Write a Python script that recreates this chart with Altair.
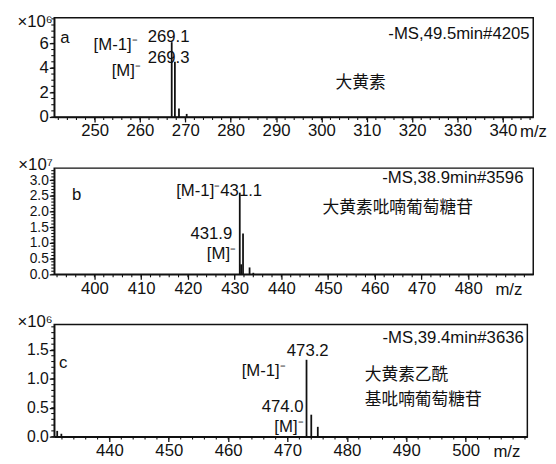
import math
import altair as alt
import numpy as np
import pandas as pd

LAT = "Liberation Sans"
CJK = "Noto Sans CJK SC"
INK = "#111111"

# ---------------- data ----------------
# panel a : 大黄素 (x10^6)
a_mz = [267.0, 267.7, 268.6, 270.3]
a_int = [6.1, 4.5, 0.7, 0.25]
a_xticks = [250, 260, 270, 280, 290, 300, 310, 320, 330, 340]
a_yticks = [0, 2, 4, 6]

# panel b : 大黄素吡喃葡萄糖苷 (x10^7)
b_mz = [431.1, 431.4, 431.8, 433.2, 434.0]
b_int = [2.6, 0.32, 1.3, 0.22, 0.05]
b_xticks = [400, 410, 420, 430, 440, 450, 460, 470, 480]
b_yticks = [0.0, 0.5, 1.0, 1.5, 2.0, 2.5, 3.0]

# panel c : 大黄素乙酰基吡喃葡萄糖苷 (x10^6)
c_mz = [431.2, 431.9, 473.2, 474.0, 475.1]
c_int = [0.1, 0.05, 1.33, 0.38, 0.17]
c_xticks = [440, 450, 460, 470, 480, 490, 500]
c_yticks = [0.0, 0.5, 1.0, 1.5]

# annotations: (text, x, y, align, font)
a_notes = [
    ("a", 242.4, 6.4, "left", LAT),
    ("[M-1]⁻", 259.5, 5.9, "right", LAT),
    ("269.1", 261.7, 6.55, "left", LAT),
    ("[M]⁻", 260.2, 3.75, "right", LAT),
    ("269.3", 261.7, 4.8, "left", LAT),
    ("-MS,49.5min#4205", 345.9, 6.8, "right", LAT),
    ("大黄素", 303.1, 2.8, "left", CJK),
]
b_notes = [
    ("b", 395.2, 2.52, "left", LAT),
    ("[M-1]⁻431.1", 417.5, 2.65, "left", LAT),
    ("431.9", 429.5, 1.29, "right", LAT),
    ("[M]⁻", 430.3, 0.63, "right", LAT),
    ("-MS,38.9min#3596", 491.8, 3.06, "right", LAT),
    ("大黄素吡喃葡萄糖苷", 448.8, 2.11, "left", CJK),
]
c_notes = [
    ("c", 431.5, 1.27, "left", LAT),
    ("[M-1]⁻", 469.7, 1.13, "right", LAT),
    ("473.2", 473.4, 1.48, "center", LAT),
    ("474.0", 472.7, 0.51, "right", LAT),
    ("[M]⁻", 472.7, 0.17, "right", LAT),
    ("-MS,39.4min#3636", 509.8, 1.71, "right", LAT),
    ("大黄素乙酰", 483.0, 1.06, "left", CJK),
    ("基吡喃葡萄糖苷", 483.0, 0.63, "left", CJK),
]


def steps(lo, hi, step):
    start = math.ceil(lo / step - 1e-9) * step
    return [round(v, 4) for v in np.arange(start, hi + 1e-9, step)]


def panel(mz, inten, xdom, ydom, w, h, xticks, xstep, yticks, ystep, yfmt,
          mult, multY, mzX, notes, ylab_size):
    xs = alt.Scale(domain=xdom, nice=False, zero=False)
    ys = alt.Scale(domain=ydom, nice=False, zero=False)
    peaks = pd.DataFrame({"mz": mz, "inten": inten, "base": [0.0] * len(mz)})

    xaxis = alt.Axis(
        values=xticks, tickSize=5, tickWidth=1.3, tickColor=INK,
        domainColor=INK, domainWidth=1.5, grid=False, labelOverlap=False,
        labelFont=LAT, labelFontSize=17, labelColor=INK, labelPadding=1,
        title="m/z", titleFont=LAT, titleFontSize=17, titleFontWeight="normal",
        titleColor=INK, titleX=mzX, titleY=15, titleAlign="left",
        titleBaseline="middle",
    )
    yaxis = alt.Axis(
        values=yticks, format=yfmt, tickSize=5, tickWidth=1.3, tickColor=INK,
        domainColor=INK, domainWidth=1.5, grid=False, labelOverlap=False,
        labelFont=LAT, labelFontSize=ylab_size, labelColor=INK, labelPadding=1,
        title=mult, titleFont=LAT, titleFontSize=17, titleFontWeight="normal",
        titleColor=INK, titleAngle=0, titleX=-2, titleY=multY,
        titleAlign="right", titleBaseline="middle",
    )

    bars = alt.Chart(peaks).mark_rule(color=INK, strokeWidth=1.8).encode(
        x=alt.X("mz:Q", scale=xs, axis=xaxis),
        y=alt.Y("inten:Q", scale=ys, axis=yaxis),
        y2="base:Q",
    )

    xm = pd.DataFrame({"t": steps(xdom[0], xdom[1], xstep)})
    xminor = alt.Chart(xm).mark_rule(color=INK, strokeWidth=1.1).encode(
        x=alt.X("t:Q", scale=xs, axis=xaxis),
        y=alt.value(h), y2=alt.value(h + 3),
    )
    ym = pd.DataFrame({"t": steps(ydom[0], ydom[1], ystep)})
    yminor = alt.Chart(ym).mark_rule(color=INK, strokeWidth=1.1).encode(
        y=alt.Y("t:Q", scale=ys, axis=yaxis),
        x=alt.value(0), x2=alt.value(-3),
    )

    layers = [bars, xminor, yminor]
    for txt, tx, ty, al, fnt in notes:
        d = pd.DataFrame({"x": [tx], "y": [ty], "label": [txt]})
        layers.append(
            alt.Chart(d).mark_text(font=fnt, fontSize=17, color=INK, align=al,
                                   baseline="middle").encode(
                x=alt.X("x:Q", scale=xs, axis=xaxis),
                y=alt.Y("y:Q", scale=ys, axis=yaxis),
                text="label:N",
            )
        )
    return alt.layer(*layers).properties(width=w, height=h)


pa = panel(a_mz, a_int, [241.1, 346.7], [0, 8.1], 487, 101, a_xticks, 2,
           a_yticks, 0.5, "d", "×10⁶", 4, 473, a_notes, 17)
pb = panel(b_mz, b_int, [391.4, 493.9], [0, 3.38], 487, 108, b_xticks, 2,
           b_yticks, 0.1, ".1f", "×10⁷", -4, 448, b_notes, 14)
pc = panel(c_mz, c_int, [430.7, 510.4], [0, 1.94], 481, 114, c_xticks, 2,
           c_yticks, 0.1, ".1f", "×10⁶", -3, 446, c_notes, 16)

chart = alt.vconcat(pa, pb, pc, spacing=14).properties(
    padding={"left": 8, "top": 0, "right": 0, "bottom": 0}
).configure(background="white").configure_view(stroke=INK, strokeWidth=1.5)

chart.save("out.html", embed_options={"renderer": "svg", "actions": False})
